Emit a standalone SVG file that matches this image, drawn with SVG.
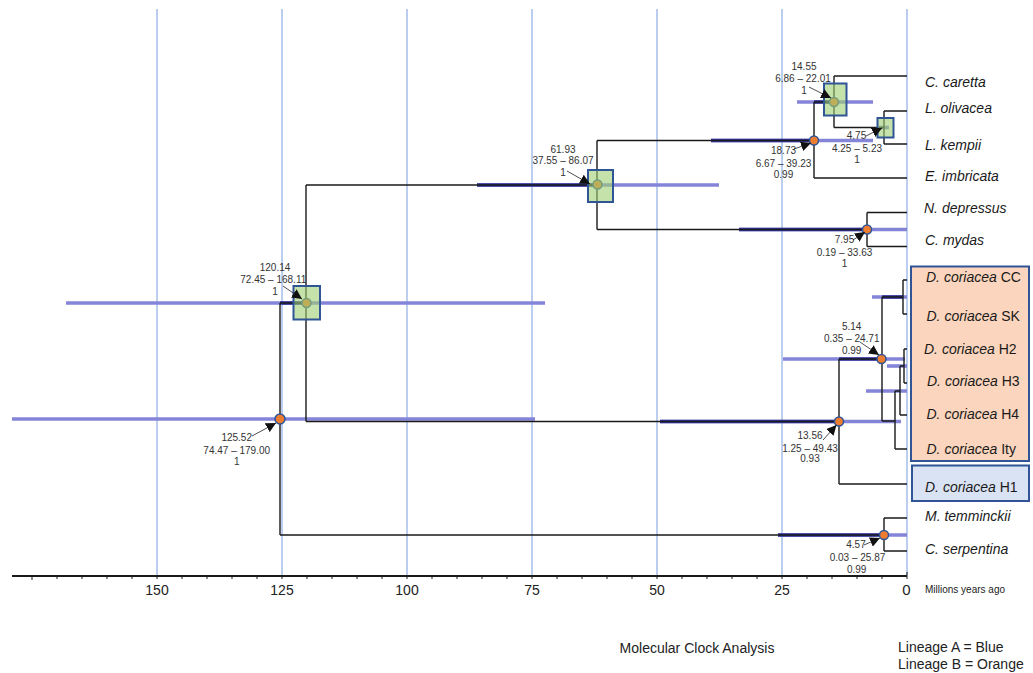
<svg xmlns="http://www.w3.org/2000/svg" width="1033" height="673" viewBox="0 0 1033 673">
<style>
.grid{stroke:#84a6e2;stroke-width:1.1}
.br{stroke:#1a1a1a;stroke-width:1.4;fill:none}
.bar{stroke:#8484d8;stroke-width:3.6}
.bard{stroke:#33349a;stroke-width:3.6}
.dot{fill:#ed7d31;stroke:#2f5597;stroke-width:1.5}
.sq{fill:#9fcf72;fill-opacity:0.6;stroke:#2f5597;stroke-width:2}
.ann{font-family:"Liberation Sans",Arial,sans-serif;font-size:10px;fill:#333;text-anchor:middle}
.lbl{font-family:"Liberation Sans",Arial,sans-serif;font-size:14px;fill:#1a1a1a}
.it{font-style:italic}
.ar{stroke:#222;stroke-width:0.8;fill:none;marker-end:url(#ah)}
.ax{font-family:"Liberation Sans",Arial,sans-serif;font-size:14px;fill:#222;text-anchor:middle}
.txt{font-family:"Liberation Sans",Arial,sans-serif;fill:#222}
.box{stroke:#2f5597;stroke-width:2}
</style>
<defs>
<marker id="ah" markerUnits="userSpaceOnUse" markerWidth="11" markerHeight="10" refX="10" refY="5" orient="auto">
<path d="M0,0 L10,5 L0,10 z" fill="#111"/>
</marker>
</defs>
<rect width="1033" height="673" fill="#fff"/>
<g id="gridlines">
<line class="grid" x1="157" y1="9" x2="157" y2="575"/>
<line class="grid" x1="282" y1="9" x2="282" y2="575"/>
<line class="grid" x1="407" y1="9" x2="407" y2="575"/>
<line class="grid" x1="532" y1="9" x2="532" y2="575"/>
<line class="grid" x1="657" y1="9" x2="657" y2="575"/>
<line class="grid" x1="782" y1="9" x2="782" y2="575"/>
<line class="grid" x1="907" y1="9" x2="907" y2="575"/>
</g>
<g id="boxes">
<rect id="lineage-b-box" class="box" x="911" y="266.5" width="118" height="194.5" fill="#fbd5bd"/>
<rect id="lineage-a-box" class="box" x="912" y="465.5" width="117" height="35.5" fill="#dae3f3"/>
</g>
<g id="hpd-bars">
<line class="bar" x1="12" y1="419" x2="535" y2="419"/>
<line class="bar" x1="66" y1="303" x2="545" y2="303"/>
<line class="bard" x1="280" y1="303" x2="306" y2="303"/>
<line class="bar" x1="477" y1="185" x2="719" y2="185"/>
<line class="bard" x1="477" y1="185" x2="597" y2="185"/>
<line class="bar" x1="711" y1="140.5" x2="873" y2="140.5"/>
<line class="bard" x1="711" y1="140.5" x2="814" y2="140.5"/>
<line class="bar" x1="797" y1="102" x2="873" y2="102"/>
<line class="bard" x1="814" y1="102" x2="834" y2="102"/>
<line class="bar" x1="879" y1="127.5" x2="889" y2="127.5"/>
<line class="bar" x1="739" y1="229.5" x2="907" y2="229.5"/>
<line class="bard" x1="739" y1="229.5" x2="867" y2="229.5"/>
<line class="bar" x1="660" y1="421.5" x2="901" y2="421.5"/>
<line class="bard" x1="660" y1="421.5" x2="839" y2="421.5"/>
<line class="bar" x1="783" y1="359" x2="905" y2="359"/>
<line class="bard" x1="839" y1="359" x2="881" y2="359"/>
<line class="bar" x1="872" y1="297" x2="907" y2="297"/>
<line class="bard" x1="882" y1="297" x2="903" y2="297"/>
<line class="bar" x1="887" y1="366" x2="907" y2="366"/>
<line class="bar" x1="866" y1="391" x2="907" y2="391"/>
<line class="bar" x1="778" y1="535" x2="907" y2="535"/>
<line class="bard" x1="778" y1="535" x2="884" y2="535"/>
</g>
<g id="connectors">
<path class="br" d="M280,303 V535 M280,303 H306 M280,535 H884"/>
<path class="br" d="M306,185 V421.5 M306,185 H597 M306,421.5 H839"/>
<path class="br" d="M597,140.5 V229.5 M597,140.5 H814 M597,229.5 H867"/>
<path class="br" d="M814,102 V178 M814,102 H834 M814,178 H907"/>
<path class="br" d="M834,76 V127.5 M834,76 H907 M834,127.5 H884"/>
<path class="br" d="M884,111 V144 M884,111 H907 M884,144 H907"/>
<path class="br" d="M867,212.5 V246.5 M867,212.5 H907 M867,246.5 H907"/>
<path class="br" d="M839,359 V484 M839,359 H882 M839,484 H907"/>
<path class="br" d="M882,297 V421 M882,297 H903 M882,421 H895"/>
<path class="br" d="M903,280 V314 M903,280 H907 M903,314 H907"/>
<path class="br" d="M895,391 V449 M895,391 H900 M895,449 H907"/>
<path class="br" d="M900,366 V415 M900,366 H904 M900,415 H907"/>
<path class="br" d="M904,349 V383 M904,349 H907 M904,383 H907"/>
<path class="br" d="M884,518 V551 M884,518 H907 M884,551 H907"/>
</g>
<g id="node-root">
<circle class="dot" cx="280" cy="419" r="5"/>
<text class="ann" x="236.7" y="441">125.52</text>
<text class="ann" x="236.7" y="454">74.47 – 179.00</text>
<text class="ann" x="236.7" y="464.5">1</text>
<line class="ar" x1="252" y1="436" x2="276" y2="423"/>
</g>
<g id="node-120">
<circle class="dot" cx="306.5" cy="303" r="4.5"/>
<rect class="sq" x="293.5" y="286" width="26.5" height="33.5"/>
<text class="ann" x="275" y="270.7">120.14</text>
<text class="ann" x="273.3" y="283.3">72.45 – 168.11</text>
<text class="ann" x="275" y="295">1</text>
<line class="ar" x1="283" y1="286" x2="302" y2="299"/>
</g>
<g id="node-62">
<circle class="dot" cx="597.5" cy="184.5" r="4.5"/>
<rect class="sq" x="588" y="170" width="25" height="32"/>
<text class="ann" x="563" y="152.5">61.93</text>
<text class="ann" x="563" y="164">37.55 – 86.07</text>
<text class="ann" x="563" y="176">1</text>
<line class="ar" x1="567" y1="171" x2="590" y2="184"/>
</g>
<g id="node-18">
<circle class="dot" cx="814" cy="140.5" r="4.5"/>
<text class="ann" x="783.5" y="154">18.73</text>
<text class="ann" x="783.5" y="166.7">6.67 – 39.23</text>
<text class="ann" x="783.5" y="177.7">0.99</text>
<line class="ar" x1="794" y1="149" x2="811" y2="143"/>
</g>
<g id="node-14">
<circle class="dot" cx="834" cy="102" r="4.5"/>
<rect class="sq" x="824" y="83.5" width="22.5" height="32"/>
<text class="ann" x="804" y="69.5">14.55</text>
<text class="ann" x="803" y="82">6.86 – 22.01</text>
<text class="ann" x="804" y="93.5">1</text>
<line class="ar" x1="809" y1="87" x2="831" y2="98"/>
</g>
<g id="node-4-75">
<rect class="sq" x="877.5" y="118" width="16" height="19.5"/>
<text class="ann" x="856.5" y="138.6">4.75</text>
<text class="ann" x="857" y="152">4.25 – 5.23</text>
<text class="ann" x="857" y="162.7">1</text>
<line class="ar" x1="866" y1="136" x2="882" y2="128"/>
</g>
<g id="node-7-95">
<circle class="dot" cx="867" cy="229.5" r="4.5"/>
<text class="ann" x="844.5" y="242.7">7.95</text>
<text class="ann" x="844.5" y="256">0.19 – 33.63</text>
<text class="ann" x="844.5" y="267.3">1</text>
<line class="ar" x1="853" y1="240" x2="865" y2="232"/>
</g>
<g id="node-13-56">
<circle class="dot" cx="839" cy="421.5" r="4.5"/>
<text class="ann" x="810" y="439.3">13.56</text>
<text class="ann" x="810" y="451.7">1.25 – 49.43</text>
<text class="ann" x="810" y="462.3">0.93</text>
<line class="ar" x1="823" y1="440" x2="836.5" y2="425"/>
</g>
<g id="node-5-14">
<circle class="dot" cx="881.5" cy="359" r="4.5"/>
<text class="ann" x="851.7" y="330">5.14</text>
<text class="ann" x="851.7" y="342.3">0.35 – 24.71</text>
<text class="ann" x="851.7" y="354">0.99</text>
<line class="ar" x1="860" y1="342" x2="879" y2="355"/>
</g>
<g id="node-4-57">
<circle class="dot" cx="884" cy="535" r="4.5"/>
<text class="ann" x="856" y="547.7">4.57</text>
<text class="ann" x="857.5" y="561">0.03 – 25.87</text>
<text class="ann" x="856.7" y="572.7">0.99</text>
<line class="ar" x1="864" y1="545" x2="880" y2="538"/>
</g>
<g id="tip-labels">
<text id="tip-ccaretta" class="lbl it" x="925" y="86.5">C. caretta</text>
<text id="tip-lolivacea" class="lbl it" x="925" y="113">L. olivacea</text>
<text id="tip-lkempii" class="lbl it" x="925" y="149.5">L. kempii</text>
<text id="tip-eimbricata" class="lbl it" x="925" y="181">E. imbricata</text>
<text id="tip-ndepressus" class="lbl it" x="924" y="213">N. depressus</text>
<text id="tip-cmydas" class="lbl it" x="925" y="245">C. mydas</text>
<text id="tip-cc" class="lbl" x="926" y="282"><tspan class="it">D. coriacea</tspan> CC</text>
<text id="tip-sk" class="lbl" x="926.5" y="321"><tspan class="it">D. coriacea</tspan> SK</text>
<text id="tip-h2" class="lbl" x="924" y="354"><tspan class="it">D. coriacea</tspan> H2</text>
<text id="tip-h3" class="lbl" x="927" y="386"><tspan class="it">D. coriacea</tspan> H3</text>
<text id="tip-h4" class="lbl" x="926.5" y="419"><tspan class="it">D. coriacea</tspan> H4</text>
<text id="tip-ity" class="lbl" x="926.5" y="454"><tspan class="it">D. coriacea</tspan> Ity</text>
<text id="tip-h1" class="lbl" x="925" y="492"><tspan class="it">D. coriacea</tspan> H1</text>
<text id="tip-mtemminckii" class="lbl it" x="925" y="521">M. temminckii</text>
<text id="tip-cserpentina" class="lbl it" x="925" y="554">C. serpentina</text>
</g>
<g id="axis">
<line x1="12" y1="576" x2="907" y2="576" stroke="#1a1a1a" stroke-width="2"/>
<path stroke="#1a1a1a" stroke-width="1" d="M32,576 v4 M57,576 v3 M82,576 v3 M107,576 v3 M132,576 v3 M157,576 v3 M182,576 v3 M207,576 v3 M232,576 v3 M257,576 v3 M282,576 v3 M307,576 v3 M332,576 v3 M357,576 v3 M382,576 v3 M407,576 v3 M432,576 v3 M457,576 v3 M482,576 v3 M507,576 v3 M532,576 v3 M557,576 v3 M582,576 v3 M607,576 v3 M632,576 v3 M657,576 v3 M682,576 v3 M707,576 v3 M732,576 v3 M757,576 v3 M782,576 v3 M807,576 v3 M832,576 v3 M857,576 v3 M882,576 v3 M907,572 v7"/>
<text class="ax" x="157" y="595">150</text>
<text class="ax" x="282" y="595">125</text>
<text class="ax" x="407" y="595">100</text>
<text class="ax" x="532" y="595">75</text>
<text class="ax" x="657" y="595">50</text>
<text class="ax" x="782" y="595">25</text>
<text class="ax" x="906.5" y="595" style="font-size:15px">0</text>
<text class="txt" x="925" y="592.5" style="font-size:10px">Millions years ago</text>
</g>
<g id="captions">
<text class="txt" x="697" y="653" text-anchor="middle" style="font-size:14px">Molecular Clock Analysis</text>
<text class="txt" x="898" y="652" style="font-size:14px">Lineage A = Blue</text>
<text class="txt" x="898" y="668.5" style="font-size:14px">Lineage B = Orange</text>
</g>
</svg>
